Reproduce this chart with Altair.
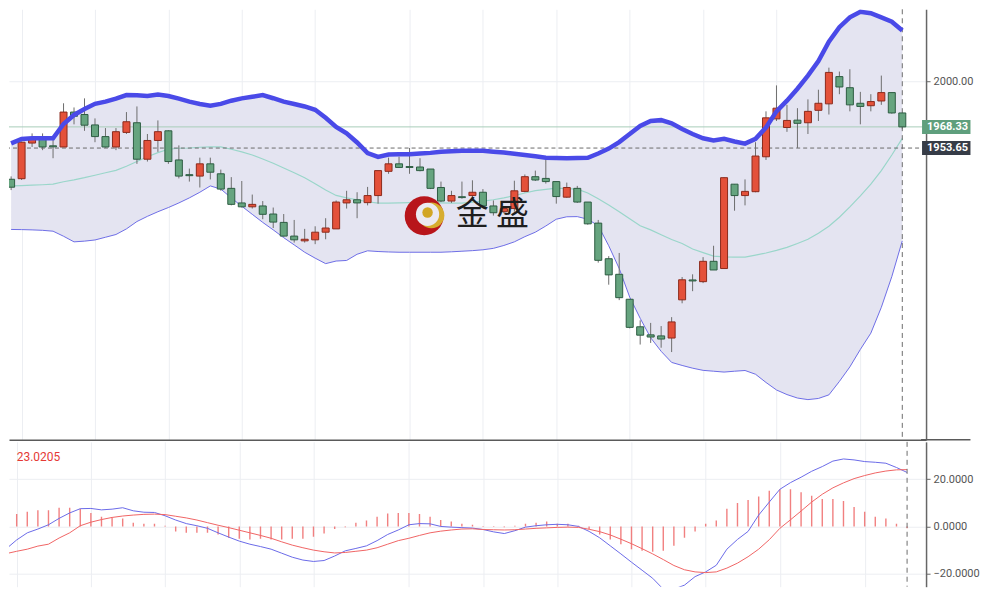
import altair as alt
import pandas as pd

# ---------------- data ----------------
opens = [1932.0, 1932.4, 1957.1, 1960.0, 1955.2, 1954.4, 1978.6, 1976.9, 1969.7, 1961.6,
         1954.4, 1964.5, 1971.2, 1945.9, 1958.9, 1965.6, 1945.4, 1935.2, 1934.2, 1942.7,
         1935.8, 1925.7, 1915.6, 1912.9, 1913.5, 1907.9, 1902.1, 1892.6, 1889.3, 1890.0,
         1895.3, 1897.6, 1915.6, 1917.8, 1915.8, 1920.7, 1937.5, 1942.7, 1940.8, 1940.5,
         1939.1, 1926.3, 1916.9, 1919.9, 1920.7, 1923.0, 1913.5, 1909.5, 1911.7, 1923.6,
         1933.8, 1932.6, 1930.4, 1919.6, 1925.7, 1916.2, 1901.6, 1876.9, 1866.1, 1848.8,
         1829.7, 1824.1, 1823.4, 1821.9, 1848.4, 1862.2, 1861.0, 1875.1, 1870.1, 1928.6,
         1920.7, 1923.4, 1947.6, 1973.9, 1967.9, 1973.0, 1971.2, 1979.8, 1984.3, 2003.2,
         1995.5, 1984.7, 1983.0, 1986.3, 1992.1, 1978.0]
highs = [1934.0, 1958.2, 1963.8, 1963.8, 1960.0, 1984.7, 1981.8, 1988.1, 1974.2, 1967.5,
         1967.5, 1978.6, 1982.5, 1963.4, 1972.8, 1966.1, 1955.5, 1939.4, 1947.0, 1947.0,
         1938.7, 1933.5, 1930.8, 1921.4, 1916.9, 1912.4, 1907.9, 1903.8, 1897.6, 1899.4,
         1905.0, 1917.3, 1924.0, 1923.0, 1926.7, 1938.0, 1947.0, 1947.7, 1953.7, 1946.6,
         1939.1, 1930.4, 1924.0, 1930.4, 1931.3, 1925.2, 1917.3, 1913.1, 1931.0, 1935.3,
         1938.0, 1945.4, 1930.4, 1929.7, 1927.4, 1916.2, 1903.8, 1878.7, 1880.9, 1848.8,
         1834.2, 1832.4, 1830.2, 1836.4, 1864.2, 1866.1, 1878.0, 1885.9, 1933.3, 1928.6,
         1931.9, 1957.7, 1979.1, 1997.1, 1983.6, 1981.3, 1987.4, 1994.1, 2009.4, 2006.7,
         2008.3, 1992.6, 1991.0, 2003.9, 1992.1, 1978.0]
lows = [1924.5, 1931.5, 1954.4, 1952.2, 1946.6, 1954.4, 1970.1, 1965.6, 1957.7, 1954.0,
        1952.2, 1963.4, 1942.7, 1944.3, 1951.0, 1942.7, 1932.6, 1930.4, 1926.3, 1931.9,
        1924.1, 1913.9, 1912.4, 1911.7, 1904.3, 1898.2, 1892.2, 1888.1, 1888.1, 1887.0,
        1890.4, 1897.6, 1911.7, 1905.0, 1913.9, 1915.1, 1935.8, 1939.8, 1935.8, 1937.5,
        1925.2, 1916.2, 1915.6, 1918.5, 1916.9, 1912.9, 1906.8, 1908.4, 1909.5, 1923.0,
        1930.8, 1929.0, 1915.1, 1919.1, 1915.6, 1900.5, 1874.2, 1858.9, 1848.2, 1828.6,
        1817.4, 1818.5, 1815.2, 1812.2, 1846.0, 1854.4, 1860.0, 1869.1, 1870.1, 1910.2,
        1913.9, 1923.0, 1945.4, 1972.4, 1964.9, 1953.7, 1963.4, 1972.4, 1976.9, 1991.0,
        1979.1, 1970.1, 1979.1, 1983.6, 1977.5, 1966.8]
closes = [1926.5, 1957.7, 1960.0, 1954.4, 1954.5, 1978.6, 1975.7, 1969.5, 1961.6, 1954.4,
          1965.0, 1971.9, 1945.9, 1958.9, 1965.0, 1944.3, 1934.2, 1934.5, 1942.7, 1936.9,
          1925.2, 1914.6, 1912.9, 1914.6, 1907.7, 1902.3, 1892.6, 1890.0, 1890.4, 1895.3,
          1898.2, 1916.2, 1917.8, 1915.6, 1920.7, 1938.0, 1942.7, 1940.2, 1940.2, 1938.0,
          1925.7, 1916.9, 1920.7, 1919.3, 1923.0, 1913.5, 1908.8, 1911.7, 1924.0, 1933.8,
          1931.5, 1930.4, 1920.0, 1926.3, 1916.2, 1901.1, 1875.8, 1865.7, 1849.9, 1829.3,
          1823.9, 1822.6, 1821.2, 1833.1, 1862.3, 1861.5, 1875.1, 1869.1, 1933.1, 1920.7,
          1923.6, 1948.1, 1974.6, 1981.3, 1972.8, 1970.8, 1979.1, 1984.7, 2006.1, 1996.0,
          1983.6, 1982.5, 1985.9, 1992.1, 1978.0, 1968.33]

upper = [1956.9, 1960.0, 1960.4, 1960.4, 1960.4, 1970.3, 1976.6, 1980.7, 1984.3, 1985.8,
         1987.9, 1990.4, 1990.2, 1989.7, 1990.8, 1989.7, 1987.9, 1985.8, 1984.2, 1983.0,
         1984.3, 1986.5, 1988.1, 1989.2, 1990.4, 1988.2, 1985.8, 1984.2, 1982.5, 1980.2,
         1974.6, 1968.3, 1963.9, 1957.5, 1950.1, 1947.5, 1949.2, 1949.4, 1949.4, 1949.9,
         1950.3, 1951.1, 1951.5, 1951.7, 1951.7, 1951.7, 1951.1, 1950.6, 1949.7, 1948.8,
         1947.9, 1946.9, 1946.8, 1946.6, 1946.8, 1946.9, 1949.9, 1953.3, 1957.8, 1963.4,
         1969.0, 1972.4, 1973.0, 1970.8, 1966.8, 1963.4, 1960.4, 1958.9, 1960.0, 1958.2,
         1956.7, 1960.0, 1967.9, 1979.1, 1986.5, 1994.8, 2003.9, 2014.0, 2027.4, 2037.5,
         2044.3, 2048.1, 2047.2, 2044.3, 2041.3, 2035.2]
middle = [1927.4, 1927.6, 1927.9, 1928.2, 1928.6, 1930.3, 1931.6, 1933.1, 1934.8, 1936.5,
          1938.2, 1941.0, 1944.3, 1947.6, 1950.5, 1952.8, 1953.5, 1953.7, 1954.2, 1954.4,
          1954.4, 1952.8, 1951.0, 1948.8, 1946.1, 1943.1, 1939.8, 1936.5, 1933.1, 1928.9,
          1924.5, 1920.8, 1919.1, 1917.8, 1916.4, 1915.5, 1915.5, 1915.6, 1915.8, 1915.8,
          1915.8, 1915.6, 1915.5, 1915.5, 1916.1, 1916.8, 1917.8, 1919.1, 1920.7, 1922.5,
          1924.1, 1925.0, 1925.9, 1925.5, 1925.2, 1922.5, 1918.5, 1914.1, 1909.5, 1904.6,
          1899.8, 1896.9, 1893.5, 1890.2, 1887.5, 1883.6, 1881.1, 1878.7, 1878.2, 1878.0,
          1878.0, 1879.4, 1880.9, 1882.7, 1884.8, 1887.5, 1890.4, 1894.5, 1899.4, 1905.7,
          1912.9, 1920.5, 1928.6, 1938.0, 1948.8, 1960.4]
lower = [1897.2, 1897.1, 1896.9, 1896.6, 1896.0, 1892.5, 1888.6, 1889.1, 1889.9, 1891.8,
         1893.7, 1897.6, 1902.7, 1906.3, 1909.5, 1912.4, 1915.6, 1919.1, 1923.0, 1927.4,
         1925.2, 1919.1, 1913.3, 1907.7, 1902.1, 1896.9, 1891.5, 1886.5, 1881.4, 1877.3,
         1873.5, 1875.3, 1875.7, 1880.0, 1882.4, 1881.9, 1881.6, 1881.4, 1881.4, 1881.4,
         1881.4, 1881.4, 1881.7, 1882.1, 1882.5, 1883.1, 1884.1, 1886.1, 1888.6, 1892.2,
         1895.3, 1899.6, 1904.3, 1906.0, 1906.1, 1904.3, 1899.8, 1885.9, 1870.1, 1850.3,
         1835.6, 1822.1, 1812.7, 1805.0, 1802.9, 1801.0, 1799.5, 1798.9, 1798.3, 1798.9,
         1799.4, 1796.8, 1791.1, 1785.9, 1782.7, 1780.3, 1779.2, 1780.0, 1782.5, 1791.8,
         1801.9, 1814.0, 1825.3, 1843.2, 1864.5, 1889.3]

hist = [4.5, 5.2, 6.2, 6.8, 6.8, 7.9, 7.9, 7.5, 5.7, 4.1,
        3.8, 3.4, 1.6, 1.1, 1.1, 0.3, -2.1, -2.7, -2.7, -2.7,
        -3.4, -4.8, -5.2, -5.5, -5.2, -5.5, -5.5, -5.2, -5.2, -4.4,
        -3.0, -1.1, -0.3, 1.6, 2.5, 4.1, 5.5, 5.7, 5.7, 5.2,
        4.1, 2.7, 2.1, 1.1, 0.7, 0.2, 0.2, -0.3, 0.3, 1.1,
        1.6, 2.1, 1.1, 1.1, 0.3, -1.1, -3.4, -5.5, -7.5, -9.6,
        -10.3, -10.7, -10.3, -8.2, -4.8, -2.1, 1.1, 2.5, 7.5, 9.9,
        11.2, 12.6, 15.1, 15.7, 15.7, 14.4, 13.0, 11.6, 11.6, 10.7,
        8.2, 6.2, 4.1, 3.4, 1.1, -0.8]
dif = [-9.5, -5.7, -2.7, -1.1, 0.7, 3.4, 5.7, 7.5, 7.6, 7.0,
       7.3, 7.9, 6.6, 6.0, 5.9, 4.5, 2.7, 1.2, 0.3, -0.8,
       -2.7, -4.5, -6.2, -7.5, -8.5, -9.6, -11.3, -13.0, -14.2, -14.8,
       -14.4, -12.5, -10.3, -9.3, -8.2, -6.0, -3.4, -1.5, 0.7, 1.2,
       1.1, 0.0, -0.3, -0.5, -0.7, -1.3, -2.3, -3.0, -1.8, -0.3,
       0.3, 0.7, 0.9, 0.7, 0.0, -2.1, -4.8, -8.2, -11.6, -15.1,
       -18.5, -21.9, -26.5, -26.5, -24.8, -21.2, -19.2, -16.4, -9.6, -5.5,
       -2.1, 4.8, 10.3, 15.7, 18.5, 20.8, 23.3, 25.3, 27.6, 28.5,
       28.1, 27.4, 27.1, 26.7, 24.9, 22.8]
dea = [-11.5, -10.5, -9.6, -8.3, -7.5, -4.9, -2.7, 0.3, 1.8, 2.9,
       3.8, 4.4, 4.8, 5.1, 5.2, 5.0, 4.3, 3.6, 2.7, 1.6,
       0.5, -0.5, -1.6, -2.7, -3.8, -5.0, -6.5, -7.9, -9.0, -10.0,
       -10.7, -11.2, -11.0, -10.5, -10.0, -9.0, -7.5, -6.0, -5.0, -3.8,
       -2.7, -2.0, -1.5, -1.1, -1.0, -1.3, -1.4, -1.5, -1.4, -1.1,
       -0.8, -0.6, -0.4, -0.3, -0.4, -1.2, -2.2, -3.6, -5.4, -7.3,
       -9.4, -11.6, -14.0, -16.5, -18.3, -19.2, -19.5, -19.2, -17.6, -15.5,
       -12.8, -9.6, -5.6, -0.8, 2.8, 6.5, 10.3, 13.6, 16.3, 18.4,
       20.2, 21.5, 22.6, 23.4, 23.9, 24.0]

grid_idx = [1, 8, 15, 22, 29, 38, 45, 52, 59, 66, 73, 81]
price_ticks = [2000]
macd_ticks = [-20, 0, 20]
last_close = 1968.33
cross_price = 1953.65
cross_idx = 85
macd_label = "23.0205"
watermark_text = "金 盛"

# ---------------- tables ----------------
n = len(opens)
idx = list(range(n))
candles = pd.DataFrame({"i": idx, "open": opens, "high": highs, "low": lows, "close": closes})
candles["dir"] = ["up" if c >= o else "down" for o, c in zip(opens, closes)]
bands = pd.DataFrame({"i": idx, "upper": upper, "middle": middle, "lower": lower})
macd = pd.DataFrame({"i": idx, "hist": hist, "dif": dif, "dea": dea, "zero": [0.0] * n})

# ---------------- layout ----------------
W, H1, H2 = 918, 431, 145
X_DOM = [0.275, 86.79]
P_DOM = [1751.3, 2049.87]
M_DOM = [-25.46, 35.73]
px_per_idx = W / (X_DOM[1] - X_DOM[0])
price_per_px = (P_DOM[1] - P_DOM[0]) / H1
FONT = "Roboto"
GRID = "#eceef2"


def xenc(field="i", domain_line=True):
    return alt.X(f"{field}:Q",
                 scale=alt.Scale(domain=X_DOM, nice=False, zero=False),
                 axis=alt.Axis(values=grid_idx, grid=True, gridColor=GRID, labels=False,
                               ticks=False, domain=domain_line, domainColor="#5a5a5a",
                               domainWidth=1.5, title=None, minExtent=0))


def yP(field):
    return alt.Y(f"{field}:Q",
                 scale=alt.Scale(domain=P_DOM, nice=False, zero=False),
                 axis=alt.Axis(orient="right", values=price_ticks, format=".2f", grid=True,
                               gridColor=GRID, domainColor="#666666", domainWidth=1.5,
                               tickColor="#666666", tickSize=4, labelColor="#555555",
                               labelFont=FONT, labelFontSize=11, labelPadding=3, title=None))


def yM(field):
    return alt.Y(f"{field}:Q",
                 scale=alt.Scale(domain=M_DOM, nice=False, zero=False),
                 axis=alt.Axis(orient="right", values=macd_ticks, format=".4f", grid=True,
                               gridColor=GRID, domainColor="#666666", domainWidth=1.5,
                               tickColor="#666666", tickSize=4, labelColor="#555555",
                               labelFont=FONT, labelFontSize=11, labelPadding=3, title=None))


# ---------------- top panel ----------------
band_fill = alt.Chart(bands).mark_area(color="#e4e4f1", clip=True).encode(
    x=xenc(), y=yP("upper"), y2="lower:Q")
mid_line = alt.Chart(bands).mark_line(color="#9ad6ca", strokeWidth=1.2, clip=True).encode(
    x=xenc(), y=yP("middle"))
low_line = alt.Chart(bands).mark_line(color="#6d6de6", strokeWidth=1, clip=True).encode(
    x=xenc(), y=yP("lower"))
up_line = alt.Chart(bands).mark_line(color="#4a4ae8", strokeWidth=4.5, clip=True).encode(
    x=xenc(), y=yP("upper"))

close_rule = alt.Chart(pd.DataFrame({"p": [last_close]})).mark_rule(
    color="#a8cdb9", strokeWidth=1).encode(y=yP("p"))
cross_h = alt.Chart(pd.DataFrame({"p": [cross_price]})).mark_rule(
    color="#6b6b6b", strokeWidth=1, strokeDash=[4, 3]).encode(y=yP("p"))
cross_v_top = alt.Chart(pd.DataFrame({"i": [cross_idx]})).mark_rule(
    color="#6b6b6b", strokeWidth=1, strokeDash=[5, 4]).encode(x=xenc())

wicks = alt.Chart(candles).mark_rule(color="#6d6d6d", strokeWidth=1, clip=True).encode(
    x=xenc(), y=yP("low"), y2="high:Q")
bodies_up = alt.Chart(candles).transform_filter(alt.datum.dir == "up").mark_bar(
    size=7, strokeWidth=1, clip=True, color="#e4513a", stroke="#8c2a1c").encode(
    x=xenc(), y=yP("open"), y2="close:Q")
bodies_down = alt.Chart(candles).transform_filter(alt.datum.dir == "down").mark_bar(
    size=7, strokeWidth=1, clip=True, color="#66a47f", stroke="#2d5c42").encode(
    x=xenc(), y=yP("open"), y2="close:Q")


# watermark logo + text
def dot(i, p, size, color):
    return alt.Chart(pd.DataFrame({"i": [i], "p": [p]})).mark_point(
        filled=True, opacity=1, size=size, color=color, shape="circle", strokeWidth=0).encode(
        x=xenc(), y=yP("p"))


logo = [dot(39.40, 1906.7, 1520, "#b8151b"),
        dot(40.09, 1907.0, 670, "#d7ad2f"),
        dot(39.72, 1907.7, 540, "#ebe9f1"),
        dot(39.72, 1909.0, 110, "#d2a624")]
wm_text = alt.Chart(pd.DataFrame({"i": [45.9], "p": [1907.0], "t": [watermark_text]})).mark_text(
    font="Noto Sans CJK SC", fontSize=33, color="#1e1e1e", align="center", baseline="middle").encode(
    x=xenc(), y=yP("p"), text="t:N")

# right-side value labels
lab_half = 7 * price_per_px
x_lab0 = X_DOM[1] + 1.0 / px_per_idx
x_lab1 = X_DOM[1] + 50.0 / px_per_idx


def value_label(value, fill):
    df = pd.DataFrame({"p": [value], "t": [f"{value:.2f}"],
                       "lo": [value - lab_half], "hi": [value + lab_half],
                       "x0": [x_lab0], "x1": [x_lab1]})
    rect = alt.Chart(df).mark_rect(color=fill).encode(
        x=xenc("x0"), x2="x1:Q", y=yP("lo"), y2="hi:Q")
    txt = alt.Chart(df).mark_text(align="left", baseline="middle", dx=5, color="white",
                                  font=FONT, fontSize=11, fontWeight="bold").encode(
        x=xenc("x0"), y=yP("p"), text="t:N")
    return [rect, txt]


labels = value_label(last_close, "#5f9f7d") + value_label(cross_price, "#363c47")

sep_df = pd.DataFrame({"x0": [X_DOM[1]], "x1": [x_lab1], "p": [P_DOM[0]]})
sep_ext = alt.Chart(sep_df).mark_rule(color="#5a5a5a", strokeWidth=1.5).encode(
    x=xenc("x0"), x2="x1:Q", y=yP("p"))

top = alt.layer(band_fill, mid_line, low_line, close_rule, cross_h, cross_v_top,
                wicks, bodies_up, bodies_down, up_line, *logo, wm_text, *labels, sep_ext
                ).properties(width=W, height=H1)

# ---------------- MACD panel ----------------
hist_rules = alt.Chart(macd).mark_rule(color="#ef6a6a", strokeWidth=1.4, opacity=0.85, clip=True).encode(
    x=xenc(domain_line=False), y=yM("hist"), y2="zero:Q")
dif_line = alt.Chart(macd).mark_line(color="#6a6ae8", strokeWidth=1, clip=True).encode(
    x=xenc(domain_line=False), y=yM("dif"))
dea_line = alt.Chart(macd).mark_line(color="#f06464", strokeWidth=1, clip=True).encode(
    x=xenc(domain_line=False), y=yM("dea"))
cross_v_bot = alt.Chart(pd.DataFrame({"i": [cross_idx]})).mark_rule(
    color="#6b6b6b", strokeWidth=1, strokeDash=[5, 4]).encode(x=xenc(domain_line=False))
macd_text = alt.Chart(pd.DataFrame({"i": [1.0], "v": [29.2], "t": [macd_label]})).mark_text(
    align="left", baseline="middle", color="#e53935", font=FONT, fontSize=12).encode(
    x=xenc(domain_line=False), y=yM("v"), text="t:N")

bottom = alt.layer(hist_rules, dif_line, dea_line, cross_v_bot, macd_text).properties(width=W, height=H2)

chart = alt.vconcat(top, bottom, spacing=0, padding=0, background="white").configure_view(stroke=None)

chart.save("out.html", embed_options={"renderer": "svg", "actions": False})
